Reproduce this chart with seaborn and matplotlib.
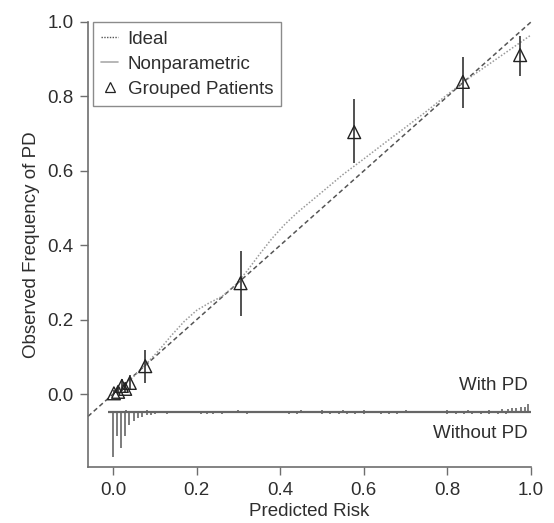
import numpy as np
import pandas as pd
import matplotlib
matplotlib.use("Agg")
import matplotlib.pyplot as plt
import seaborn as sns
from matplotlib.lines import Line2D

# ---- data ----
np_x = [0.00, 0.02, 0.05, 0.08, 0.11, 0.14, 0.17, 0.20, 0.23, 0.26, 0.29, 0.32,
        0.35, 0.38, 0.41, 0.44, 0.47, 0.50, 0.55, 0.60, 0.65, 0.70, 0.75, 0.80,
        0.85, 0.90, 0.95, 1.00]
np_y = [0.000, 0.018, 0.048, 0.082, 0.118, 0.158, 0.195, 0.225, 0.245, 0.262,
        0.290, 0.330, 0.375, 0.418, 0.455, 0.487, 0.515, 0.543, 0.590, 0.632,
        0.675, 0.717, 0.760, 0.805, 0.848, 0.887, 0.926, 0.965]

grp_x = [0.002, 0.012, 0.021, 0.029, 0.040, 0.077, 0.305, 0.577, 0.837, 0.974]
grp_y = [0.002, 0.006, 0.022, 0.014, 0.030, 0.075, 0.298, 0.704, 0.839, 0.911]
grp_lo = [0.000, 0.000, 0.008, 0.003, 0.012, 0.030, 0.210, 0.620, 0.769, 0.855]
grp_hi = [0.010, 0.018, 0.040, 0.030, 0.052, 0.118, 0.385, 0.792, 0.905, 0.962]

without_x = [0.000, 0.010, 0.020, 0.029, 0.039, 0.050, 0.060, 0.069, 0.080, 0.090,
             0.100, 0.130, 0.210, 0.225, 0.240, 0.260, 0.320, 0.420, 0.440, 0.500,
             0.520, 0.540, 0.560, 0.580, 0.600, 0.640, 0.660, 0.680, 0.800, 0.820,
             0.840, 0.860, 0.880, 0.900, 0.920, 0.940]
without_h = [0.121, 0.065, 0.097, 0.065, 0.035, 0.024, 0.016, 0.013, 0.008, 0.007,
             0.006, 0.006, 0.006, 0.006, 0.006, 0.006, 0.006, 0.006, 0.006, 0.006,
             0.006, 0.006, 0.006, 0.006, 0.006, 0.006, 0.006, 0.006, 0.006, 0.006,
             0.006, 0.006, 0.006, 0.006, 0.006, 0.006]
with_x = [0.030, 0.080, 0.300, 0.450, 0.500, 0.550, 0.600, 0.700, 0.800, 0.850,
          0.900, 0.930, 0.945, 0.955, 0.965, 0.975, 0.985, 0.992]
with_h = [0.005, 0.005, 0.005, 0.005, 0.006, 0.006, 0.005, 0.005, 0.006, 0.006,
          0.006, 0.007, 0.009, 0.011, 0.011, 0.013, 0.013, 0.021]

legend_labels = ["Ideal", "Nonparametric", "Grouped Patients"]
x_ticks = [0.0, 0.2, 0.4, 0.6, 0.8, 1.0]
y_ticks = [0.0, 0.2, 0.4, 0.6, 0.8, 1.0]

# ---- style ----
sns.set_style("ticks")
plt.rcParams["font.family"] = ["Liberation Sans", "DejaVu Sans"]
TXT = "#2e2e2e"
AX = "#6e6e6e"
FS = 13.5

fig = plt.figure(figsize=(5.54, 5.23), dpi=100)
ax = fig.add_axes([88/554, 1-467/523, (531-88)/554, (467-22)/523])
xmin, xmax = -0.06, 1.0
ymin, ymax = -0.196, 1.0
ax.set_xlim(xmin, xmax)
ax.set_ylim(ymin, ymax)

# ideal line
ideal_df = pd.DataFrame({"x": [xmin, xmax], "y": [xmin, xmax]})
sns.lineplot(data=ideal_df, x="x", y="y", ax=ax, color="#555555", lw=1.1,
             linestyle=(0, (3, 2)), clip_on=False)
# nonparametric
np_df = pd.DataFrame({"x": np_x, "y": np_y})
sns.lineplot(data=np_df, x="x", y="y", ax=ax, color="#9a9a9a", lw=1.1,
             linestyle=(0, (1, 1.2)), clip_on=False, sort=False)

# error bars
ax.vlines(grp_x, grp_lo, grp_hi, color="#333333", lw=1.2, zorder=3)
grp_df = pd.DataFrame({"x": grp_x, "y": grp_y})
sns.scatterplot(data=grp_df, x="x", y="y", ax=ax, marker="^", s=85,
                facecolors="none", edgecolors="#222222", linewidths=1.0, zorder=4)

# spike histogram
base = -0.048
ax.hlines(base, -0.012, 1.0, color="#666666", lw=1.6)
ax.vlines(without_x, [base - h for h in without_h], base, color="#666666", lw=1.2)
ax.vlines(with_x, base, [base + h for h in with_h], color="#666666", lw=1.2)
ax.text(0.993, 0.024, "With PD", ha="right", va="center", fontsize=FS, color=TXT)
ax.text(0.993, -0.105, "Without PD", ha="right", va="center", fontsize=FS, color=TXT)

# axes styling
ax.set_xticks(x_ticks)
ax.set_yticks(y_ticks)
ax.set_xticklabels([f"{v:.1f}" for v in x_ticks])
ax.set_yticklabels([f"{v:.1f}" for v in y_ticks])
ax.tick_params(axis="both", length=5.5, width=1.0, color=AX, labelcolor=TXT,
               labelsize=FS, pad=5.0, direction="out")
for s in ["top", "right"]:
    ax.spines[s].set_visible(False)
for s in ["left", "bottom"]:
    ax.spines[s].set_color(AX)
    ax.spines[s].set_linewidth(1.2)
ax.set_xlabel("Predicted Risk", fontsize=FS, color=TXT, labelpad=3)
ax.set_ylabel("Observed Frequency of PD", fontsize=FS, color=TXT, labelpad=5)

handles = [
    Line2D([], [], color="#555555", lw=1.0, linestyle=(0, (1, 1))),
    Line2D([], [], color="#aaaaaa", lw=1.2, linestyle="-"),
    Line2D([], [], color="#222222", marker="^", markerfacecolor="none",
           markersize=7, linestyle="none", markeredgewidth=0.9),
]
leg = ax.legend(handles, legend_labels, loc="upper left",
                bbox_to_anchor=(0.011, 1.0), fontsize=FS, frameon=True,
                fancybox=False, handlelength=0.9, handletextpad=0.5,
                borderpad=0.45, labelspacing=0.42, borderaxespad=0.0)
leg.get_frame().set_edgecolor(AX)
leg.get_frame().set_linewidth(1.0)
for t in leg.get_texts():
    t.set_color(TXT)

fig.savefig("out.png", dpi=100)
